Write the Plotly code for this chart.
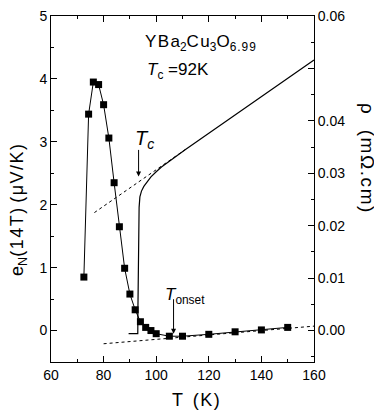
import plotly.graph_objects as go

# Nernst signal e_N(14T), filled squares (left axis)
t_en = [72.5, 74.3, 76.1, 78.1, 80.0, 82.0, 84.0, 86.0, 88.0, 90.0, 92.0,
        94.0, 96.0, 98.0, 100.0, 105.0, 110.0, 120.0, 130.0, 140.0, 150.0]
e_n = [0.85, 3.44, 3.95, 3.91, 3.59, 3.06, 2.35, 1.65, 0.99, 0.58, 0.33,
       0.14, 0.05, 0.00, -0.05, -0.09, -0.09, -0.06, -0.02, 0.01, 0.05]

# resistivity rho(T), solid line (right axis)
t_rho = [89.5, 93.0, 93.05, 93.15, 93.3, 93.5, 93.8, 94.4, 95.3, 96.5, 98.0,
         100.0, 102.0, 105.0, 108.0, 111.0, 160.0]
rho = [-0.0006, -0.0006, 0.004, 0.012, 0.019, 0.0235, 0.0255, 0.0266, 0.0275,
       0.0284, 0.0293, 0.0303, 0.0312, 0.0323, 0.0334, 0.0345, 0.0516]

# dashed guide lines
t_rho_fit = [76.5, 111.0]
rho_fit = [0.0225, 0.0345]
t_bg = [80.0, 160.0]
en_bg = [-0.21, 0.07]

# arrows
tc_arrow = (93.3, 2.45)
tonset_arrow = (106.6, -0.05)

FONT = "Liberation Sans, Arial, sans-serif"
HS = "\u200a"  # hair space, used to open up letter spacing a little


def spaced(s):
    return HS.join(s)


fig = go.Figure()

fig.add_trace(go.Scatter(
    x=t_rho, y=rho, yaxis="y2", mode="lines",
    line=dict(color="black", width=1.2),
))
fig.add_trace(go.Scatter(
    x=t_rho_fit, y=rho_fit, yaxis="y2", mode="lines",
    line=dict(color="black", width=1, dash="3px,3px"),
))
fig.add_trace(go.Scatter(
    x=t_bg, y=en_bg, mode="lines",
    line=dict(color="black", width=1, dash="3px,3px"),
))
fig.add_trace(go.Scatter(
    x=t_en, y=e_n, mode="lines+markers",
    line=dict(color="black", width=1),
    marker=dict(symbol="square", size=7, color="black"),
))

axis_common = dict(
    showline=True, linecolor="black", linewidth=1,
    ticks="inside", tickcolor="black", ticklen=6,
    showgrid=False, zeroline=False, ticklabeloverflow="allow",
    tickfont=dict(family=FONT, size=14, color="black"),
)

# page body adds an 8px offset, so the figure is 8px smaller than the window
fig.update_layout(
    width=374, height=404,
    margin=dict(l=43, r=68, t=0, b=50),
    paper_bgcolor="white", plot_bgcolor="white",
    showlegend=False,
    font=dict(family=FONT, color="black"),
    xaxis=dict(
        range=[60, 160], tick0=60, dtick=20, mirror="ticks",
        minor=dict(ticks="inside", ticklen=3, dtick=10, tickcolor="black"),
        **axis_common,
    ),
    yaxis=dict(
        range=[-0.5, 5], tick0=0, dtick=1,
        minor=dict(ticks="inside", ticklen=3, dtick=0.5, tickcolor="black"),
        **axis_common,
    ),
    yaxis2=dict(
        range=[-0.006, 0.06], overlaying="y", side="right",
        tickvals=[0, 0.01, 0.02, 0.03, 0.04, 0.05, 0.06],
        ticktext=["0.00", "0.01", "0.02", "0.03", "0.04", "", "0.06"],
        minor=dict(ticks="inside", ticklen=3, dtick=0.005, tickcolor="black"),
        **axis_common,
    ),
)

# axis titles
fig.add_annotation(
    text="e<sub>N</sub>" + spaced("(14T)") + " " + spaced("(μV/K)"),
    xref="paper", yref="paper", x=-0.121, y=0.44, textangle=-90,
    xanchor="center", yanchor="middle",
    showarrow=False, font=dict(size=18),
)
fig.add_annotation(
    text="ρ   " + spaced("(mΩ.cm)"),
    xref="paper", yref="paper", x=1.201, y=0.59, textangle=90,
    xanchor="center", yanchor="middle",
    showarrow=False, font=dict(size=19),
)
fig.add_annotation(
    text="T  " + spaced("(K)"),
    xref="paper", yref="paper", x=0.551, y=-0.11,
    xanchor="center", yanchor="middle",
    showarrow=False, font=dict(size=18),
)

# sample labels
fig.add_annotation(
    text=spaced("YBa") + "<sub>2</sub>" + spaced("Cu") + "<sub>3</sub>"
    + "O<sub>" + spaced("6.99") + "</sub>",
    x=95.0, y=4.57, xanchor="left", showarrow=False, font=dict(size=17),
)
fig.add_annotation(
    text="<i>T</i><sub>c</sub> =92K",
    x=95.8, y=4.12, xanchor="left", showarrow=False, font=dict(size=17),
)

# Tc and Tonset markers
fig.add_annotation(
    text="<i>T</i><sub><i>c</i></sub>",
    x=91.2, y=3.03, xanchor="left", showarrow=False, font=dict(size=20),
)
fig.add_annotation(
    x=tc_arrow[0], y=tc_arrow[1], text="", showarrow=True,
    ax=0, ay=-28, arrowhead=2, arrowsize=1, arrowwidth=1, arrowcolor="black",
)
fig.add_annotation(
    text="<i>T</i><sub>onset</sub>",
    x=102.6, y=0.55, xanchor="left", showarrow=False, font=dict(size=17),
)
fig.add_annotation(
    x=tonset_arrow[0], y=tonset_arrow[1], text="", showarrow=True,
    ax=0, ay=-36, arrowhead=2, arrowsize=1, arrowwidth=1, arrowcolor="black",
)

fig.write_html("out.html")
